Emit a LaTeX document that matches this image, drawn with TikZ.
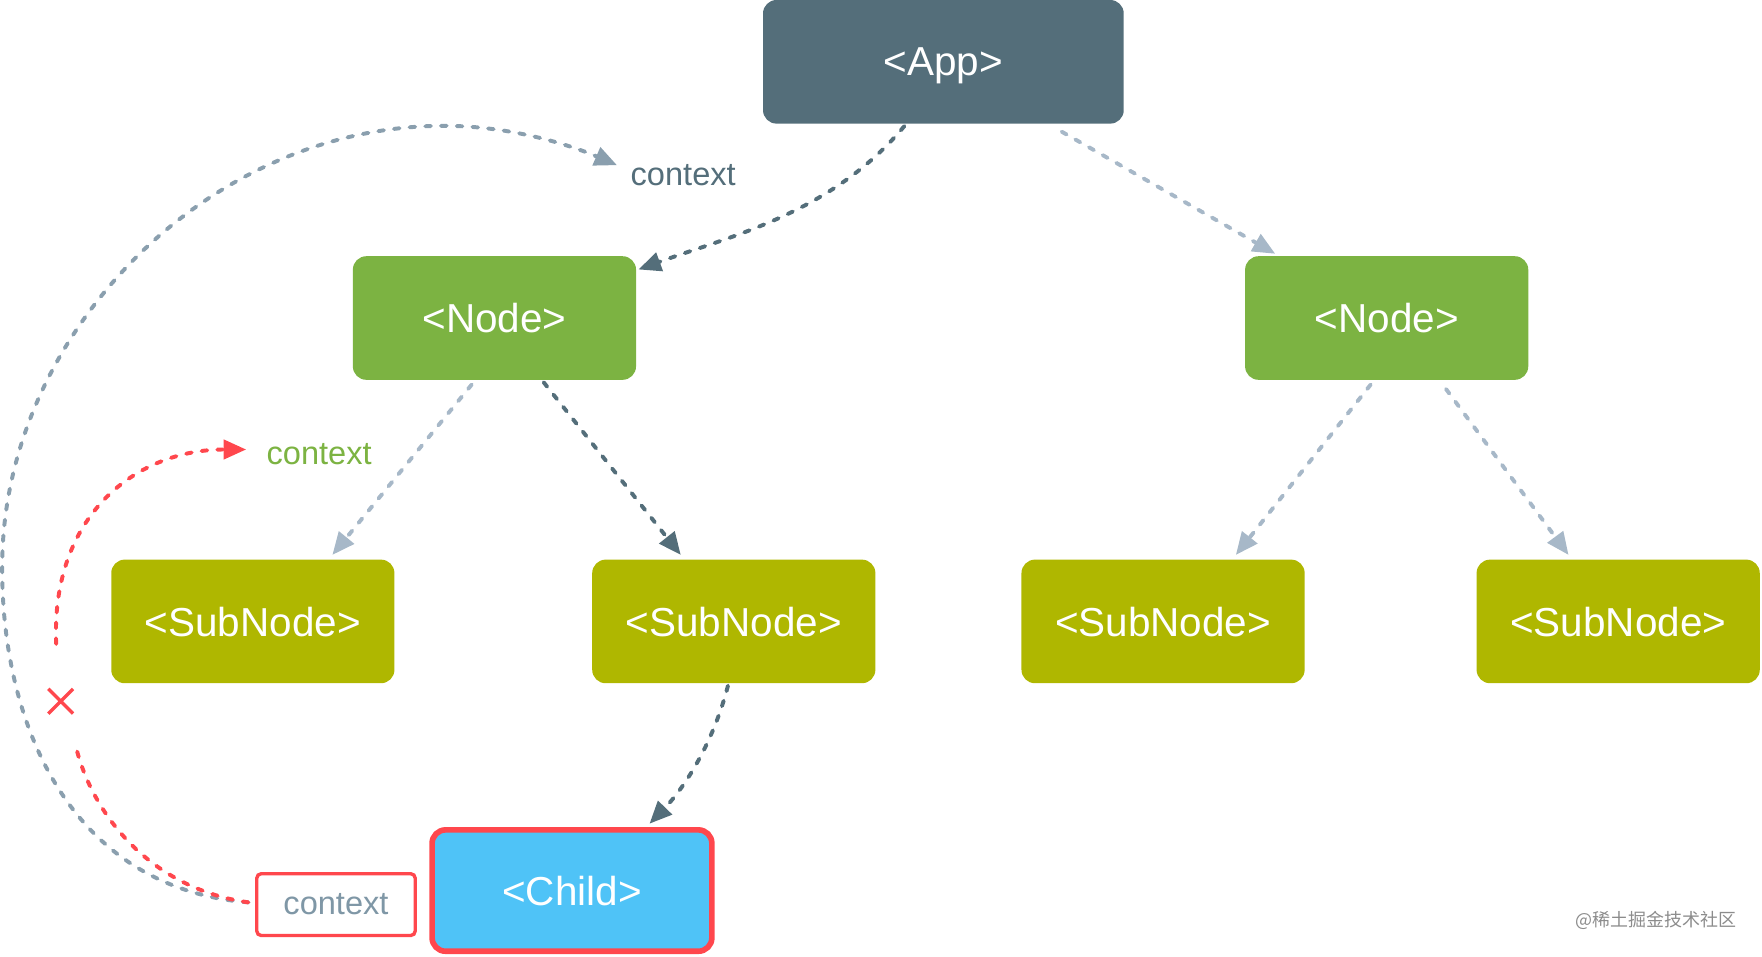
\documentclass[tikz,border=0pt]{standalone}
\usepackage{fontspec}
\setmainfont{Liberation Sans}
\newfontfamily\cjk{Noto Sans CJK SC}
\usetikzlibrary{arrows.meta,calc}
\definecolor{appc}{HTML}{546E7A}
\definecolor{nodec}{HTML}{7CB342}
\definecolor{subc}{HTML}{AFB700}
\definecolor{childc}{HTML}{4FC3F7}
\definecolor{redc}{HTML}{FF474D}
\definecolor{lightc}{HTML}{A7B8C8}
\definecolor{arcc}{HTML}{8A9FAE}
\definecolor{boxtxt}{HTML}{7F97A6}
\begin{document}
\begin{tikzpicture}[x=1pt,y=-1pt,
  box/.style={rounded corners=12pt, minimum width=252pt, minimum height=110pt, inner sep=0pt, text=white, text depth=0pt, font=\fontsize{36}{40}\selectfont},
  dln/.style={line width=3.5pt, line cap=round, dash pattern=on 5pt off 9pt},
  conn/.style={dln, -{Triangle[length=20pt,width=17pt]}},
  darkln/.style={conn, draw=appc},
  lightln/.style={conn, draw=lightc},
  lbl/.style={font=\fontsize{29}{32}\selectfont, inner sep=0pt}
]
\useasboundingbox (0,0) rectangle (1568,851);

\node[box, fill=appc, minimum width=321pt] (app) at (839.5,55) {<App>};
\node[box, fill=nodec] (nodeL) at (440,283) {<Node>};
\node[box, fill=nodec] (nodeR) at (1234,283) {<Node>};
\node[box, fill=subc] (sub1) at (225,553) {<SubNode>};
\node[box, fill=subc] (sub2) at (653,553) {<SubNode>};
\node[box, fill=subc] (sub3) at (1035,553) {<SubNode>};
\node[box, fill=subc] (sub4) at (1440,553) {<SubNode>};
\node[box, fill=childc, draw=redc, line width=5pt, minimum width=249pt, minimum height=108pt] (child) at (509,792.5) {<Child>};
\node[lbl, draw=redc, line width=3pt, fill=white, text=boxtxt, rounded corners=4pt, minimum width=141pt, minimum height=55pt] (ctxbox) at (299,805) {context};

\node[lbl, text=appc] (ctxtop) at (608,156) {context};
\node[lbl, text=nodec] (ctxgreen) at (284,404) {context};
\node[font=\cjk\fontsize{16}{18}\selectfont, text=black!45, inner sep=0pt] (wm) at (1474,819) {@稀土掘金技术社区};

% tree connectors
\draw[darkln] ($(app.south west)+(126,2)$) .. controls (740,190) and (650,210) .. ($(nodeL.north east)+(2,12)$);
\draw[lightln] ($(app.south west)+(266,7)$) -- ($(nodeR.north west)+(27,-2)$);
\draw[lightln] ($(nodeL.south west)+(106,4)$) -- ($(sub1.north west)+(197,-4)$);
\draw[darkln] ($(nodeL.south west)+(170,2)$) -- ($(sub2.north west)+(79,-4)$);
\draw[lightln] ($(nodeR.south west)+(112,4)$) -- ($(sub3.north west)+(191,-4)$);
\draw[lightln] ($(nodeR.south west)+(179,8)$) -- ($(sub4.north west)+(82,-4)$);
\draw[darkln] ($(sub2.south west)+(121,2)$) .. controls (635,660) and (610,700) .. ($(child.north west)+(196,-3)$);

% context arcs
\coordinate (arcend) at ($(ctxtop.west)+(-12,-9)$);
\draw[conn, draw=arcc] ($(ctxbox.west)+(-6,-2)$) .. controls (60,790) and (0,640) .. (2,500)
   .. controls (4,300) and (180,115) .. (390,112) .. controls (450,111) and (505,128) .. (arcend);

\coordinate (redA) at (67,662);
\coordinate (redB) at (50,573);
\coordinate (redend) at ($(ctxgreen.west)+(-18,-4)$);
\draw[dln, draw=redc] ($(ctxbox.west)+(-6,-2)$) .. controls (130,790) and (80,720) .. (redA);
\draw[conn, draw=redc] (redB) .. controls (45,460) and (120,400) .. (redend);

\coordinate (xm) at (54,624);
\draw[redc, line width=3pt] ($(xm)+(-11,-11)$) -- ($(xm)+(11,11)$) ($(xm)+(-11,11)$) -- ($(xm)+(11,-11)$);
\end{tikzpicture}
\end{document}
